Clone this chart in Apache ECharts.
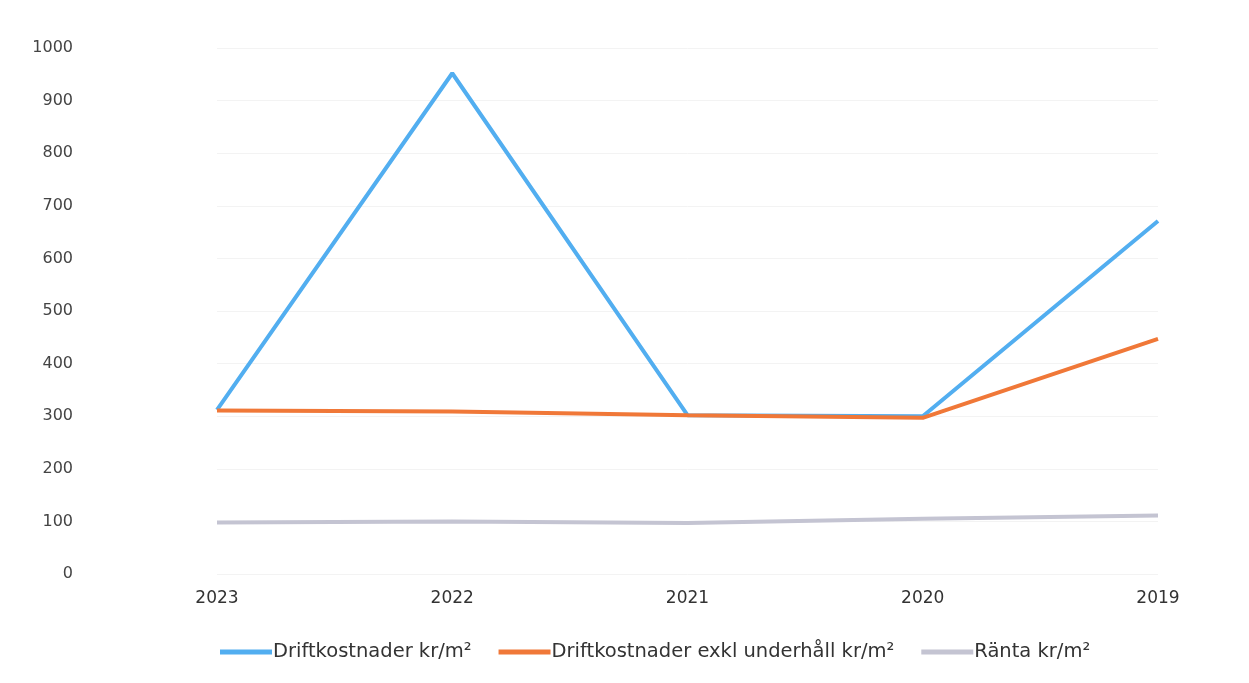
<!DOCTYPE html>
<html>
<head>
<meta charset="utf-8">
<script src="https://cdn.jsdelivr.net/npm/echarts@6/dist/echarts.min.js"></script>
<style>
  html, body { margin: 0; padding: 0; background: #fff; }
  #chart { width: 1249px; height: 683px; }
</style>
</head>
<body>
<div id="chart"></div>
<script>
const years = ['2023', '2022', '2021', '2020', '2019'];
const driftkostnader = [312, 952, 302, 300, 671];
const driftExklUnderhall = [311, 309, 302, 297, 447];
const ranta = [98, 100, 97, 105, 111];
const yTicks = { min: 0, max: 1000, step: 100 };

const chartDom = document.getElementById('chart');
const myChart = echarts.init(chartDom);
const font = '"DejaVu Sans", sans-serif';

const mkSeries = (name, data, color) => ({
  name: name,
  type: 'line',
  data: data,
  symbol: 'none',
  lineStyle: { color: color, width: 4 },
  itemStyle: { color: color },
});

const option = {
  animation: false,
  textStyle: { fontFamily: font },
  grid: { left: 217, right: 91, top: 48, bottom: 109 },
  legend: {
    bottom: 16,
    left: 215,
    icon: 'rect',
    itemWidth: 52,
    itemHeight: 5,
    itemGap: 27,
    textStyle: { fontFamily: font, fontSize: 19.5, color: '#333', padding: [0, 0, 0, -4] },
    data: ['Driftkostnader kr/m²', 'Driftkostnader exkl underhåll kr/m²', 'Ränta kr/m²'],
  },
  xAxis: {
    type: 'category',
    boundaryGap: false,
    data: years,
    axisLine: { show: false },
    axisTick: { show: false },
    axisLabel: { margin: 16, fontSize: 17, color: '#333', fontFamily: font },
  },
  yAxis: {
    type: 'value',
    min: yTicks.min,
    max: yTicks.max,
    interval: yTicks.step,
    axisLine: { show: false },
    axisTick: { show: false },
    axisLabel: { margin: 144, fontSize: 16, color: '#444', fontFamily: font, formatter: v => String(v) },
    splitLine: { lineStyle: { color: '#f3f3f3', width: 1 } },
  },
  series: [
    mkSeries('Driftkostnader kr/m²', driftkostnader, '#52aef0'),
    mkSeries('Driftkostnader exkl underhåll kr/m²', driftExklUnderhall, '#f07838'),
    mkSeries('Ränta kr/m²', ranta, '#c4c4d2'),
  ],
};

myChart.setOption(option);
</script>
</body>
</html>
